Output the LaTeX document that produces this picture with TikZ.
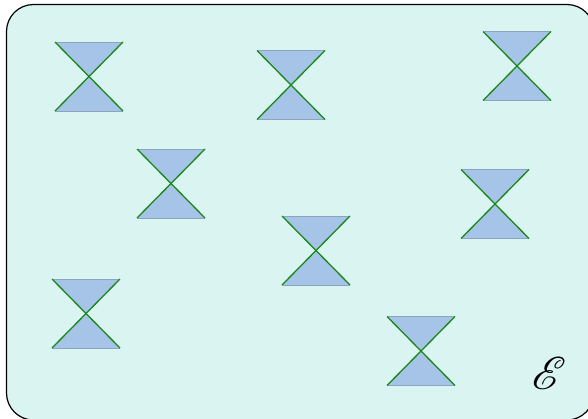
\documentclass[tikz,border=0pt]{standalone}
\usepackage{mathrsfs}
\usepackage{graphicx}
\definecolor{bgfill}{RGB}{218,244,242}
\definecolor{glassfill}{RGB}{166,196,232}
\definecolor{glassedge}{RGB}{140,165,190}
\definecolor{glassgreen}{RGB}{25,135,25}
\tikzset{
  hourglass/.pic={
    \fill[glassfill] (-34,-34.5) -- (34,-34.5) -- (0,0) -- cycle;
    \fill[glassfill] (-34,34.5) -- (34,34.5) -- (0,0) -- cycle;
    \draw[glassedge,line width=0.6pt] (-34,-34.5) -- (34,-34.5);
    \draw[glassedge,line width=0.6pt] (-34,34.5) -- (34,34.5);
    \draw[glassgreen,line width=1.3pt] (-34,-34.5) -- (34,34.5);
    \draw[glassgreen,line width=1.3pt] (34,-34.5) -- (-34,34.5);
  }
}
\begin{document}
\begin{tikzpicture}[x=1pt,y=-1pt]
\useasboundingbox (0,0) rectangle (588,418);
\begin{scope}
\clip (0,0) rectangle (588,418);
\draw[black,line width=1.2pt,fill=bgfill,rounded corners=27pt] (6.5,4.5) rectangle (594,420);
\end{scope}
\pic at (89,76.5) {hourglass};
\pic at (291,85) {hourglass};
\pic at (517,66) {hourglass};
\pic at (171,183.5) {hourglass};
\pic at (495,204) {hourglass};
\pic at (316,250.5) {hourglass};
\pic at (86,313.5) {hourglass};
\pic at (421,351) {hourglass};
\node (lbl) at (549,373) {\scalebox{4.6}{$\mathscr{E}$}};
\end{tikzpicture}
\end{document}
